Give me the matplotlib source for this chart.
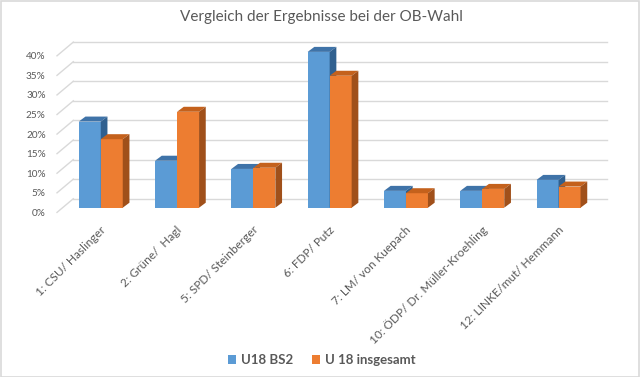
import matplotlib
matplotlib.use("Agg")
import matplotlib.pyplot as plt
from matplotlib.patches import Polygon, Rectangle
from matplotlib.transforms import ScaledTranslation

categories = ["1: CSU/ Haslinger", "2: Grüne/  Hagl", "5: SPD/ Steinberger", "6: FDP/ Putz",
              "7: LM/ von Kuepach", "10: ÖDP/ Dr. Müller-Kroehling", "12: LINKE/mut/ Hemmann"]
u18_bs2 = [22.0, 12.0, 9.9, 39.8, 4.3, 4.3, 7.1]
u18_ges = [17.5, 24.5, 10.2, 33.7, 3.7, 4.8, 5.4]
series_names = ["U18 BS2", "U 18 insgesamt"]
yticks = [0, 5, 10, 15, 20, 25, 30, 35, 40]
title = "Vergleich der Ergebnisse bei der OB-Wahl"

plt.rcParams['font.family'] = ['Lato', 'DejaVu Sans']
TXT = '#595959'
GRID = '#D9D9D9'
front_c = ['#5B9BD5', '#ED7D31']
top_c = ['#3F73A8', '#C4611C']
side_c = ['#30608F', '#A0501A']

W, H = 640, 377
fig = plt.figure(figsize=(6.4, 3.77), dpi=100)
fig.patch.set_facecolor('white')
fig.add_artist(Rectangle((0.5 / W, 0.5 / H), 1 - 1.5 / W, 1 - 1.5 / H, transform=fig.transFigure,
                         fill=False, ec=GRID, lw=1.2))

# front floor plane axes: x -0.5..6.5 -> px 57..591 ; y 0 at px 212.4, 3.915 px per %
px_per_cat = 76.3
px_per_pct = 3.915
x0px, y0px = 57, 212.4
ymax = 45
ax = fig.add_axes([x0px / W, (H - y0px) / H, 7 * px_per_cat / W, ymax * px_per_pct / H])
ax.set_xlim(-0.5, 6.5)
ax.set_ylim(0, ymax)
for s in ax.spines.values():
    s.set_visible(False)
ax.patch.set_visible(False)

def off(dx, dy):
    return ax.transData + ScaledTranslation(dx / 100, dy / 100, fig.dpi_scale_trans)

# back wall & left wall grid
back = off(16.3, 13.7)
inv = ax.transData.inverted()
for v in yticks:
    ax.plot([-0.5, 6.5], [v, v], color=GRID, lw=1.0, transform=back, clip_on=False, zorder=1)
    pa = inv.transform(ax.transData.transform((-0.5, v)))
    pb = inv.transform(back.transform((-0.5, v)))
    ax.plot([pa[0], pb[0]], [pa[1], pb[1]], color=GRID, lw=1.0, clip_on=False, zorder=1)

# bars
bar_tr = off(5.6, 4.7)
bw = 22 / px_per_cat
ddx = 6.7 / px_per_cat
ddy = 5.0 / px_per_pct
for i in range(len(categories)):
    for k, vals in enumerate([u18_bs2, u18_ges]):
        h = vals[i]
        xl = i - bw + k * bw
        ax.bar(xl, h, width=bw, align='edge', color=front_c[k], transform=bar_tr,
               clip_on=False, zorder=3, lw=0)
        ax.add_patch(Polygon([(xl, h), (xl + bw, h), (xl + bw + ddx, h + ddy), (xl + ddx, h + ddy)],
                             closed=True, fc=top_c[k], lw=0, transform=bar_tr, clip_on=False, zorder=3))
        ax.add_patch(Polygon([(xl + bw, 0), (xl + bw + ddx, ddy), (xl + bw + ddx, h + ddy), (xl + bw, h)],
                             closed=True, fc=side_c[k], lw=0, transform=bar_tr, clip_on=False, zorder=3))

ax.set_xlim(-0.5, 6.5)
ax.set_ylim(0, ymax)

ax.set_yticks(yticks)
ax.set_yticklabels([f"{v}%" for v in yticks], fontsize=7.2, color=TXT)
ax.tick_params(axis='y', length=0, pad=8.1)
ax.set_xticks(range(len(categories)))
ax.set_xticklabels(categories, rotation=45, ha='right', va='top', rotation_mode='anchor',
                   fontsize=8.5, color=TXT)
ax.tick_params(axis='x', length=0, pad=8.5)
for lbl in ax.get_xticklabels():
    lbl.set_transform(lbl.get_transform() + ScaledTranslation(5 / 100, 0, fig.dpi_scale_trans))

fig.text(321 / W, 1 - 17.5 / H, title, ha='center', va='center', fontsize=11, color=TXT)

handles = [Rectangle((0, 0), 1, 1, fc=front_c[0], lw=0), Rectangle((0, 0), 1, 1, fc=front_c[1], lw=0)]
fig.legend(handles, series_names, loc='center', bbox_to_anchor=(322 / W, 1 - 360 / H), ncol=2,
           frameon=False, handlelength=0.6, handleheight=0.6, handletextpad=0.4, columnspacing=1.4,
           prop={'size': 9.5, 'weight': 'bold'}, labelcolor=TXT)

fig.savefig('out.png', dpi=100)
